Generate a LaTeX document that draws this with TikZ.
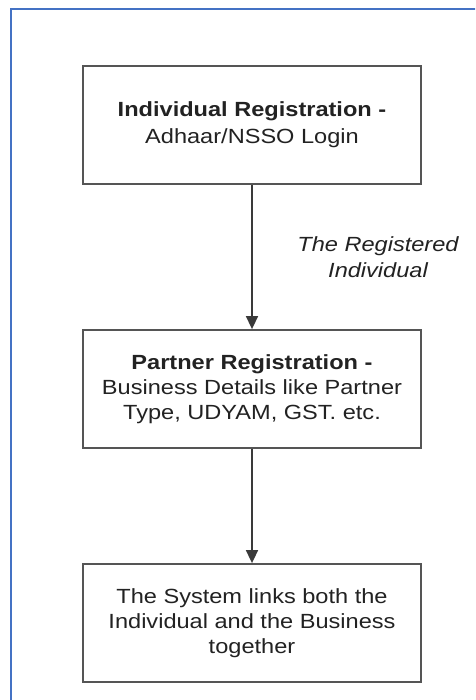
\documentclass[tikz,border=0pt]{standalone}
\usepackage{fontspec}
\setmainfont[FakeStretch=1.15]{Liberation Sans}
\usetikzlibrary{arrows.meta}
\definecolor{frameblue}{HTML}{4472C4}
\definecolor{boxgray}{HTML}{555555}
\definecolor{arrgray}{HTML}{3A3A3A}
\definecolor{txt}{HTML}{222222}
\begin{document}
\begin{tikzpicture}[x=1pt,y=-1pt,
  stepbox/.style={draw=boxgray, line width=1.8pt, fill=white, rectangle,
    minimum width=338pt, minimum height=118pt, inner sep=0pt, align=center,
    text=txt, font=\fontsize{20.5}{25}\selectfont},
  arr/.style={draw=arrgray, line width=1.6pt, -{Triangle[width=12pt,length=13pt]}},
  lbl/.style={align=center, text=txt, font=\fontsize{20.5}{26}\selectfont\itshape}]
\useasboundingbox (0,0) rectangle (475,700);
\clip (0,0) rectangle (475,700);
\fill[white] (0,0) rectangle (475,700);
\draw[frameblue, line width=2pt] (11,9) rectangle (490,720);
\node[stepbox] (b1) at (252,125) {\textbf{Individual Registration -}\\[2pt]Adhaar/NSSO Login};
\node[stepbox] (b2) at (252,389) {\textbf{Partner Registration -}\\Business Details like Partner\\Type, UDYAM, GST. etc.};
\node[stepbox] (b3) at (252,623) {The System links both the\\Individual and the Business\\together};
\draw[arr] (b1.south) -- (b2.north);
\draw[arr] (b2.south) -- (b3.north);
\node[lbl] (l1) at (378,257) {The Registered\\Individual};
\end{tikzpicture}
\end{document}
